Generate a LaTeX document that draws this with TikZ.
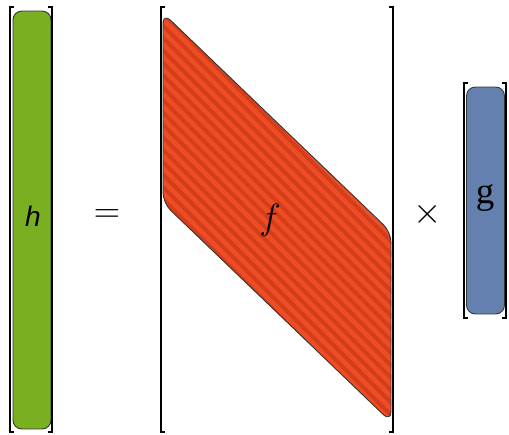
\documentclass[tikz,border=0pt]{standalone}
\usepackage{fontspec}
\setmainfont{Liberation Serif}
\newfontfamily\hsans{Liberation Sans}
\usetikzlibrary{patterns.meta}

\definecolor{hgreen}{RGB}{123,175,34}
\definecolor{fred}{RGB}{240,76,36}
\definecolor{fstripe}{RGB}{210,62,28}
\definecolor{gblue}{RGB}{100,128,174}

\tikzset{
  vecbox/.style={draw=black!80, line width=0.5pt, rounded corners=5pt,
    minimum width=0.76cm, inner sep=0pt},
  brack/.style={line width=1.6pt, line cap=butt},
  sym/.style={font=\fontsize{22}{26}\selectfont}
}

\begin{document}
\begin{tikzpicture}[x=0.02cm, y=-0.02cm]
\useasboundingbox (0,0) rectangle (509,434);

% h vector
\node[vecbox, fill=hgreen, minimum height=8.36cm] (hvec) at (32,220) {};
\node[font=\hsans\itshape\fontsize{16}{19}\selectfont] (hlab) at (33,216) {h};
\draw[brack] (14,7) -| (10,432) -- (14,432);
\draw[brack] (48,7) -| (52,432) -- (48,432);

% equals
\node[sym] (eq) at (107,216) {$=$};

% f matrix (band)
\fill[fred, rounded corners=6pt]
  (163,13) -- (391,232) -- (391,422) -- (163,203) -- cycle;
\pattern[pattern={Lines[angle=-45, distance=5pt, line width=2.2pt]},
  pattern color=fstripe, rounded corners=6pt]
  (163,13) -- (391,232) -- (391,422) -- (163,203) -- cycle;
\draw[black!80, line width=0.5pt, rounded corners=6pt]
  (163,13) -- (391,232) -- (391,422) -- (163,203) -- cycle;
\node[sym] (flab) at (270,220) {$f$};
\draw[brack] (165,7) -| (161,432) -- (165,432);
\draw[brack] (389,7) -| (393,432) -- (389,432);

% times
\node[sym] (times) at (428,214) {$\times$};

% g vector
\node[vecbox, fill=gblue, minimum height=4.54cm] (gvec) at (485.5,200.5) {};
\node[font=\fontsize{21}{25}\selectfont] (glab) at (485,198) {g};
\draw[brack] (468,83) -| (464,318) -- (468,318);
\draw[brack] (502,83) -| (506,318) -- (502,318);

\end{tikzpicture}
\end{document}
